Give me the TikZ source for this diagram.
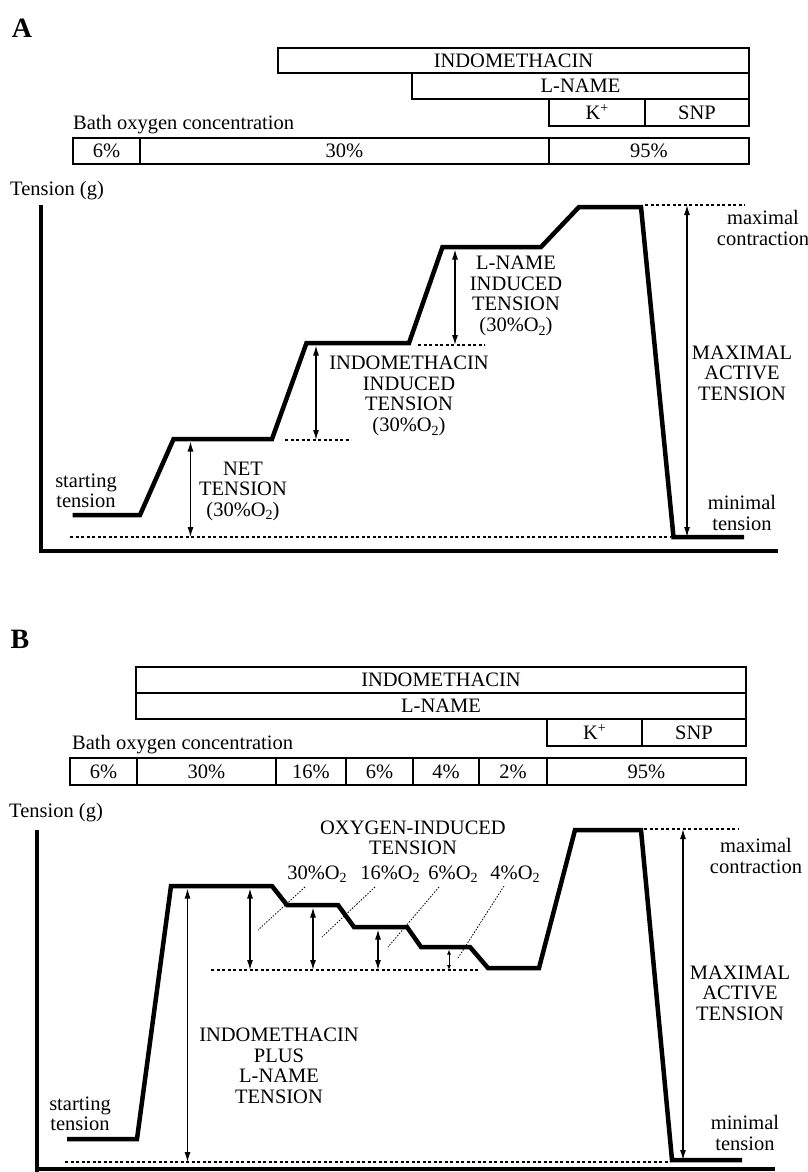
\documentclass[tikz,border=0pt]{standalone}
\usepackage{fontspec}
\setmainfont{Liberation Serif}
\usetikzlibrary{arrows.meta}
\newcommand\mybox[6]{\node[boxn, minimum width={(#4-#2)*1pt}, minimum height={(#5-#3)*1pt}] (#1) at ({(#2+#4)/2},{(#3+#5)/2}) {#6};}
\newcommand\osub{\raisebox{-0.4ex}{\fontsize{14}{14}\selectfont 2}}
\newcommand\ksup{\raisebox{0.75ex}{\fontsize{14}{14}\selectfont +}}
\begin{document}
\begin{tikzpicture}[x=1pt,y=-1pt,
  lbl/.style={font=\fontsize{20.5}{20.5}\selectfont, align=center, inner sep=0pt},
  boxn/.style={draw, line width=1.3pt, inner sep=0pt, font=\fontsize{20.5}{20.5}\selectfont, text height=13.5pt, text depth=0pt},
  trace/.style={line width=4.5pt, line join=miter},
  axis/.style={line width=4pt},
  dotl/.style={line width=1.2pt, dash pattern=on 3pt off 2.5pt},
  leader/.style={line width=0.8pt, dash pattern=on 1.5pt off 1.5pt},
  dim/.style={line width=1.2pt, {Latex[length=10pt,width=6pt]}-{Latex[length=10pt,width=6pt]}},
  dimsmall/.style={line width=0.9pt, {Latex[length=5pt,width=4pt]}-{Latex[length=5pt,width=4pt]}},
  panel/.style={font=\fontsize{28}{28}\selectfont\bfseries, inner sep=0pt}
]
\useasboundingbox (0,0) rectangle (808,1172);

% ================= PANEL A =================
\node[panel] (lA) at (22,28) {A};
\mybox{aindo}{278}{48}{749}{73}{INDOMETHACIN}
\mybox{alname}{412}{73}{749}{99}{L-NAME}
\mybox{ak}{549}{99}{645}{126}{K\ksup}
\mybox{asnp}{645}{99}{749}{126}{SNP}
\node[lbl, anchor=base west] (abath) at (73,129) {Bath oxygen concentration};
\mybox{ao1}{73}{138}{140}{164}{6\%}
\mybox{ao2}{140}{138}{549}{164}{30\%}
\mybox{ao3}{549}{138}{749}{164}{95\%}
\node[lbl, anchor=base west] (aten) at (10,195) {Tension (g)};

% axes
\coordinate (ayt) at (41,205);
\coordinate (ayb) at (41,553);
\coordinate (axl) at (39,551);
\coordinate (axr) at (778,551);
\draw[axis] (ayt) -- (ayb);
\draw[axis] (axl) -- (axr);

% trace
\coordinate (a1) at (72.5,515);
\coordinate (a2) at (140,515);
\coordinate (a3) at (173.6,439);
\coordinate (a4) at (272,439);
\coordinate (a5) at (306.5,343);
\coordinate (a6) at (409,343);
\coordinate (a7) at (442.5,247);
\coordinate (a8) at (541,247);
\coordinate (a9) at (579,207);
\coordinate (a10) at (641,207);
\coordinate (a11) at (673.5,537);
\coordinate (a12) at (744,537);
\draw[trace] (a1) -- (a2) -- (a3) -- (a4) -- (a5) -- (a6) -- (a7) -- (a8) -- (a9) -- (a10) -- (a11) -- (a12);

% dotted references
\coordinate (ad1a) at (70,537);  \coordinate (ad1b) at (670,537);
\coordinate (ad2a) at (285,440); \coordinate (ad2b) at (351,440);
\coordinate (ad3a) at (418,345); \coordinate (ad3b) at (485,345);
\coordinate (ad4a) at (645,205); \coordinate (ad4b) at (745,205);
\draw[dotl] (ad1a) -- (ad1b);
\draw[dotl] (ad2a) -- (ad2b);
\draw[dotl] (ad3a) -- (ad3b);
\draw[dotl] (ad4a) -- (ad4b);

% dimension arrows
\coordinate (anT) at (190.5,441.5); \coordinate (anB) at (190.5,537);
\coordinate (aiT) at (316,345.5);   \coordinate (aiB) at (316,440);
\coordinate (alT) at (455,249.5);   \coordinate (alB) at (455,345);
\coordinate (amT) at (687,205);     \coordinate (amB) at (687,537);
\draw[dim] (anT) -- (anB);
\draw[dim] (aiT) -- (aiB);
\draw[dim] (alT) -- (alB);
\draw[dim] (amT) -- (amB);

% labels
\node[lbl] (astart) at (86,491) {starting\\tension};
\node[lbl] (anet) at (243,491) {NET\\TENSION\\(30\%O\osub)};
\node[lbl] (aindl) at (409,396) {INDOMETHACIN\\INDUCED\\TENSION\\(30\%O\osub)};
\node[lbl] (alnl) at (516,296) {L-NAME\\INDUCED\\TENSION\\(30\%O\osub)};
\node[lbl] (amax) at (742,373) {MAXIMAL\\ACTIVE\\TENSION};
\node[lbl] (amc) at (763,228) {maximal\\contraction};
\node[lbl] (amin) at (742,513) {minimal\\tension};

% ================= PANEL B =================
\node[panel] (lB) at (20,639) {B};
\mybox{bindo}{136}{667}{746}{693}{INDOMETHACIN}
\mybox{blname}{136}{693}{746}{719}{L-NAME}
\mybox{bk}{547}{719}{642}{746}{K\ksup}
\mybox{bsnp}{642}{719}{746}{746}{SNP}
\node[lbl, anchor=base west] (bbath) at (72,749) {Bath oxygen concentration};
\mybox{bo1}{70}{758}{137}{785}{6\%}
\mybox{bo2}{137}{758}{276}{785}{30\%}
\mybox{bo3}{276}{758}{346}{785}{16\%}
\mybox{bo4}{346}{758}{413}{785}{6\%}
\mybox{bo5}{413}{758}{479}{785}{4\%}
\mybox{bo6}{479}{758}{547}{785}{2\%}
\mybox{bo7}{547}{758}{746}{785}{95\%}
\node[lbl, anchor=base west] (bten) at (9,817) {Tension (g)};

% axes
\coordinate (byt) at (37,830);
\coordinate (byb) at (37,1172);
\coordinate (bxl) at (35,1169);
\coordinate (bxr) at (775,1169);
\draw[axis] (byt) -- (byb);
\draw[axis] (bxl) -- (bxr);

% trace
\coordinate (b1) at (67,1139);
\coordinate (b2) at (137,1139);
\coordinate (b3) at (171,886);
\coordinate (b4) at (272,886);
\coordinate (b5) at (287,905);
\coordinate (b6) at (338,905);
\coordinate (b7) at (354,927);
\coordinate (b8) at (407,927);
\coordinate (b9) at (421,947);
\coordinate (b10) at (470,947);
\coordinate (b11) at (488,968);
\coordinate (b12) at (539,968);
\coordinate (b13) at (575,830);
\coordinate (b14) at (641,830);
\coordinate (b15) at (672,1160);
\coordinate (b16) at (742,1160);
\draw[trace] (b1) -- (b2) -- (b3) -- (b4) -- (b5) -- (b6) -- (b7) -- (b8) -- (b9) -- (b10) -- (b11) -- (b12) -- (b13) -- (b14) -- (b15) -- (b16);

% dotted references
\coordinate (bd1a) at (65,1162);  \coordinate (bd1b) at (670,1162);
\coordinate (bd2a) at (211,970);  \coordinate (bd2b) at (478,970);
\coordinate (bd3a) at (644,829);  \coordinate (bd3b) at (738,829);
\draw[dotl] (bd1a) -- (bd1b);
\draw[dotl] (bd2a) -- (bd2b);
\draw[dotl] (bd3a) -- (bd3b);

% leader lines
\coordinate (bl1a) at (305,887); \coordinate (bl1b) at (258,930);
\coordinate (bl2a) at (375,887); \coordinate (bl2b) at (322,937);
\coordinate (bl3a) at (439,887); \coordinate (bl3b) at (388,947);
\coordinate (bl4a) at (504,886); \coordinate (bl4b) at (458,958);
\draw[leader] (bl1a) -- (bl1b);
\draw[leader] (bl2a) -- (bl2b);
\draw[leader] (bl3a) -- (bl3b);
\draw[leader] (bl4a) -- (bl4b);

% dimension arrows
\coordinate (bbT) at (187.5,888.5); \coordinate (bbB) at (187.5,1162);
\coordinate (bmT) at (683,829);     \coordinate (bmB) at (683,1160);
\coordinate (bo1T) at (250,888.5);  \coordinate (bo1B) at (250,970);
\coordinate (bo2T) at (313,907.5);  \coordinate (bo2B) at (313,970);
\coordinate (bo3T) at (378,929.5);  \coordinate (bo3B) at (378,970);
\coordinate (bo4T) at (449,949.5);  \coordinate (bo4B) at (449,970);
\draw[dim] (bbT) -- (bbB);
\draw[dim] (bmT) -- (bmB);
\draw[dim] (bo1T) -- (bo1B);
\draw[dim] (bo2T) -- (bo2B);
\draw[dim] (bo3T) -- (bo3B);
\draw[dimsmall] (bo4T) -- (bo4B);

% labels
\node[lbl] (boxy) at (413,838) {OXYGEN-INDUCED\\TENSION};
\node[lbl, anchor=base] (bl30) at (317,879) {30\%O\osub};
\node[lbl, anchor=base] (bl16) at (390,879) {16\%O\osub};
\node[lbl, anchor=base] (bl6) at (453,879) {6\%O\osub};
\node[lbl, anchor=base] (bl4) at (515,879) {4\%O\osub};
\node[lbl] (bipl) at (279,1066) {INDOMETHACIN\\PLUS\\L-NAME\\TENSION};
\node[lbl] (bstart) at (80,1114) {starting\\tension};
\node[lbl] (bmax) at (740,993) {MAXIMAL\\ACTIVE\\TENSION};
\node[lbl] (bmc) at (756,856) {maximal\\contraction};
\node[lbl] (bmin) at (745,1133) {minimal\\tension};
\end{tikzpicture}
\end{document}
